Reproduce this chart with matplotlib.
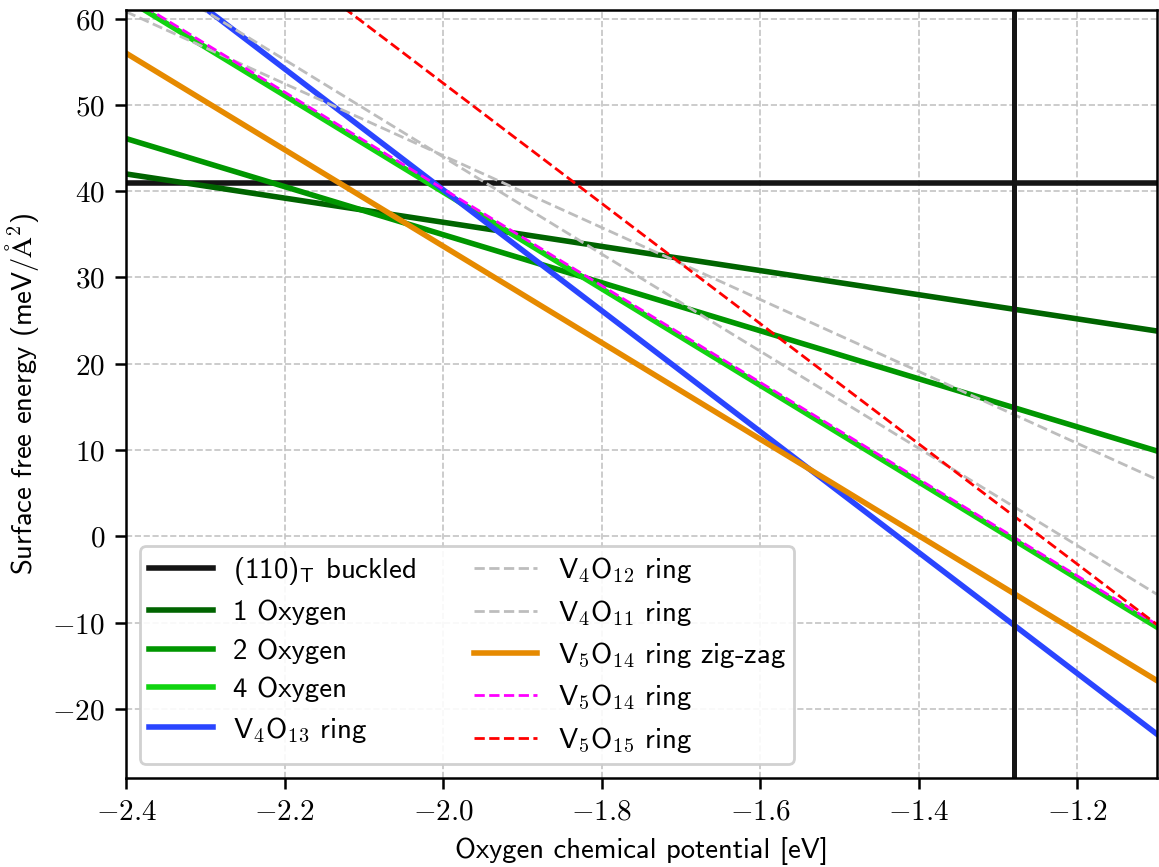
import matplotlib
matplotlib.use("Agg")
import matplotlib.pyplot as plt
from matplotlib.ticker import FuncFormatter, MultipleLocator

# Surface free energy lines, read at both ends of the chemical potential window
mu_range = [-2.4, -1.1]
mu_marker = -1.28

labels = [
    r"(110)$_{\mathsf{T}}$ buckled",
    "1 Oxygen",
    "2 Oxygen",
    "4 Oxygen",
    r"V$_{\mathsf{4}}$O$_{\mathsf{13}}$ ring",
    r"V$_{\mathsf{4}}$O$_{\mathsf{12}}$ ring",
    r"V$_{\mathsf{4}}$O$_{\mathsf{11}}$ ring",
    r"V$_{\mathsf{5}}$O$_{\mathsf{14}}$ ring zig-zag",
    r"V$_{\mathsf{5}}$O$_{\mathsf{14}}$ ring",
    r"V$_{\mathsf{5}}$O$_{\mathsf{15}}$ ring",
]
gamma_left = [40.9, 42.0, 46.1, 62.3, 68.2, 66.5, 60.8, 56.0, 62.7, 80.4]
gamma_right = [40.9, 23.8, 9.9, -10.5, -22.9, -6.7, 6.6, -16.7, -10.2, -10.2]

colors = ["#151515", "#006400", "#009600", "#11d411", "#2a45ff",
          "#bdbdbd", "#bdbdbd", "#e68a00", "#ff00ff", "#ff0000"]
styles = ["-", "-", "-", "-", "-", "--", "--", "-", "--", "--"]

plt.rcParams["font.family"] = ["cmss10", "DejaVu Sans"]
plt.rcParams["mathtext.fontset"] = "cm"
plt.rcParams["axes.unicode_minus"] = False
plt.rcParams["axes.formatter.use_mathtext"] = True

fig = plt.figure(figsize=(5.795, 4.335), dpi=200)
ax = fig.add_axes([0.1087, 0.1027, 0.8893, 0.8858])

for lab, y0, y1, c, ls in zip(labels, gamma_left, gamma_right, colors, styles):
    lw = 2.0 if ls == "-" else 1.0
    ax.plot(mu_range, [y0, y1], ls, color=c, lw=lw, label=lab)

ax.axvline(mu_marker, color="#151515", lw=1.8)

ax.set_xlim(mu_range)
ax.set_ylim(-28, 61)
ax.xaxis.set_major_locator(MultipleLocator(0.2))
ax.yaxis.set_major_locator(MultipleLocator(10))
ax.xaxis.set_major_formatter(FuncFormatter(lambda v, p: f"${v:.1f}$"))
ax.yaxis.set_major_formatter(FuncFormatter(lambda v, p: f"${v:.0f}$"))
ax.tick_params(labelsize=10.5, width=0.9, length=4)
ax.grid(True, ls="--", color="#c4c4c4", lw=0.6)
ax.set_axisbelow(True)
for s in ax.spines.values():
    s.set_linewidth(0.9)

ax.set_xlabel("Oxygen chemical potential [eV]", fontsize=10.3, labelpad=4)
ax.set_ylabel(r"Surface free energy (meV/$\mathsf{\AA}^{\mathsf{2}}$)", fontsize=10.3)

ax.legend(loc="lower left", ncol=2, fontsize=10.4, framealpha=0.9,
          edgecolor="#cccccc", columnspacing=2.0, borderpad=0.3,
          handlelength=2.2, handletextpad=0.7, labelspacing=0.45)

fig.savefig("out.png", dpi=200)
